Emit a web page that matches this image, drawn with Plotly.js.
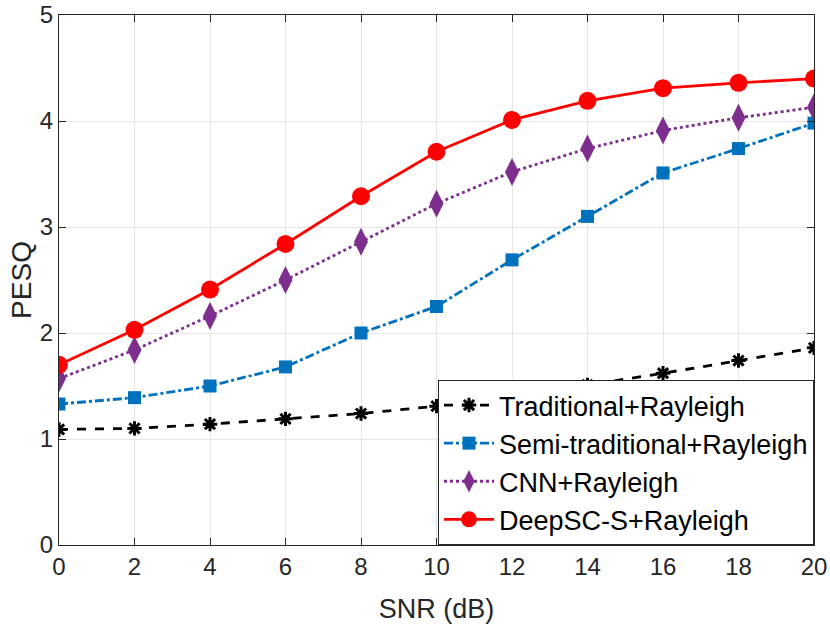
<!DOCTYPE html>
<html><head><meta charset="utf-8">
<script src="https://cdn.plot.ly/plotly-3.0.1.min.js"></script>
<style>html,body{margin:0;padding:0;background:#fff}#plot{width:830px;height:632px}</style>
</head><body><div id="plot"></div>
<script>
const snr = [0,2,4,6,8,10,12,14,16,18,20];
const traditional = [1.09,1.10,1.14,1.19,1.24,1.31,1.40,1.51,1.62,1.74,1.86];
const semiTraditional = [1.33,1.39,1.50,1.68,2.00,2.25,2.69,3.10,3.51,3.74,3.98];
const cnn = [1.57,1.84,2.16,2.50,2.86,3.22,3.52,3.74,3.91,4.03,4.13];
const deepsc = [1.70,2.03,2.41,2.84,3.29,3.71,4.01,4.19,4.31,4.36,4.40];
const names = ['Traditional+Rayleigh','Semi-traditional+Rayleigh','CNN+Rayleigh','DeepSC-S+Rayleigh'];
const xTicks = [0,2,4,6,8,10,12,14,16,18,20];
const yTicks = [0,1,2,3,4,5];

const traces = [
  {x:snr,y:traditional,name:names[0],mode:'lines+markers',
   line:{color:'#000000',width:2.8,dash:'dash'},
   marker:{symbol:'asterisk-open',size:12,color:'#000000',line:{color:'#000000',width:3}}},
  {x:snr,y:semiTraditional,name:names[1],mode:'lines+markers',
   line:{color:'#0072BD',width:2.8,dash:'dashdot'},
   marker:{symbol:'square',size:13,color:'#0072BD'}},
  {x:snr,y:cnn,name:names[2],mode:'lines+markers',
   line:{color:'#7E2F8E',width:2.8,dash:'dot'},
   marker:{symbol:'diamond-tall',size:20,color:'#7E2F8E'}},
  {x:snr,y:deepsc,name:names[3],mode:'lines+markers',
   line:{color:'#FF0000',width:2.8},
   marker:{symbol:'circle',size:18,color:'#FF0000'}}
];

const FONT = 'Liberation Sans, Arial, Helvetica, sans-serif';
const axisCommon = {
  showline:true, linecolor:'#262626', linewidth:1, mirror:'ticks',
  ticks:'inside', ticklen:7, tickcolor:'#262626',
  showgrid:true, gridcolor:'#e6e6e6', gridwidth:1, zeroline:false,
  ticklabeloverflow:'allow',
  tickfont:{family:FONT,size:24,color:'#262626'}
};

const layout = {
  width:830, height:632,
  margin:{l:59,r:16,t:15,b:87},
  paper_bgcolor:'#ffffff', plot_bgcolor:'#ffffff',
  showlegend:true,
  xaxis:Object.assign({},axisCommon,{range:[0,20],tickvals:xTicks,
    title:{text:'SNR (dB)',standoff:20,font:{family:FONT,size:27,color:'#262626'}}}),
  yaxis:Object.assign({},axisCommon,{range:[0,5],tickvals:yTicks,
    title:{text:'PESQ',standoff:0,font:{family:FONT,size:28,color:'#262626'}}}),
  legend:{x:1,y:0,xanchor:'right',yanchor:'bottom',bgcolor:'#ffffff',
    bordercolor:'#262626',borderwidth:1,tracegroupgap:0,itemwidth:50,
    font:{family:FONT,size:27,color:'#000000'}}
};

Plotly.newPlot('plot',traces,layout,{displayModeBar:false,staticPlot:true});
</script></body></html>
